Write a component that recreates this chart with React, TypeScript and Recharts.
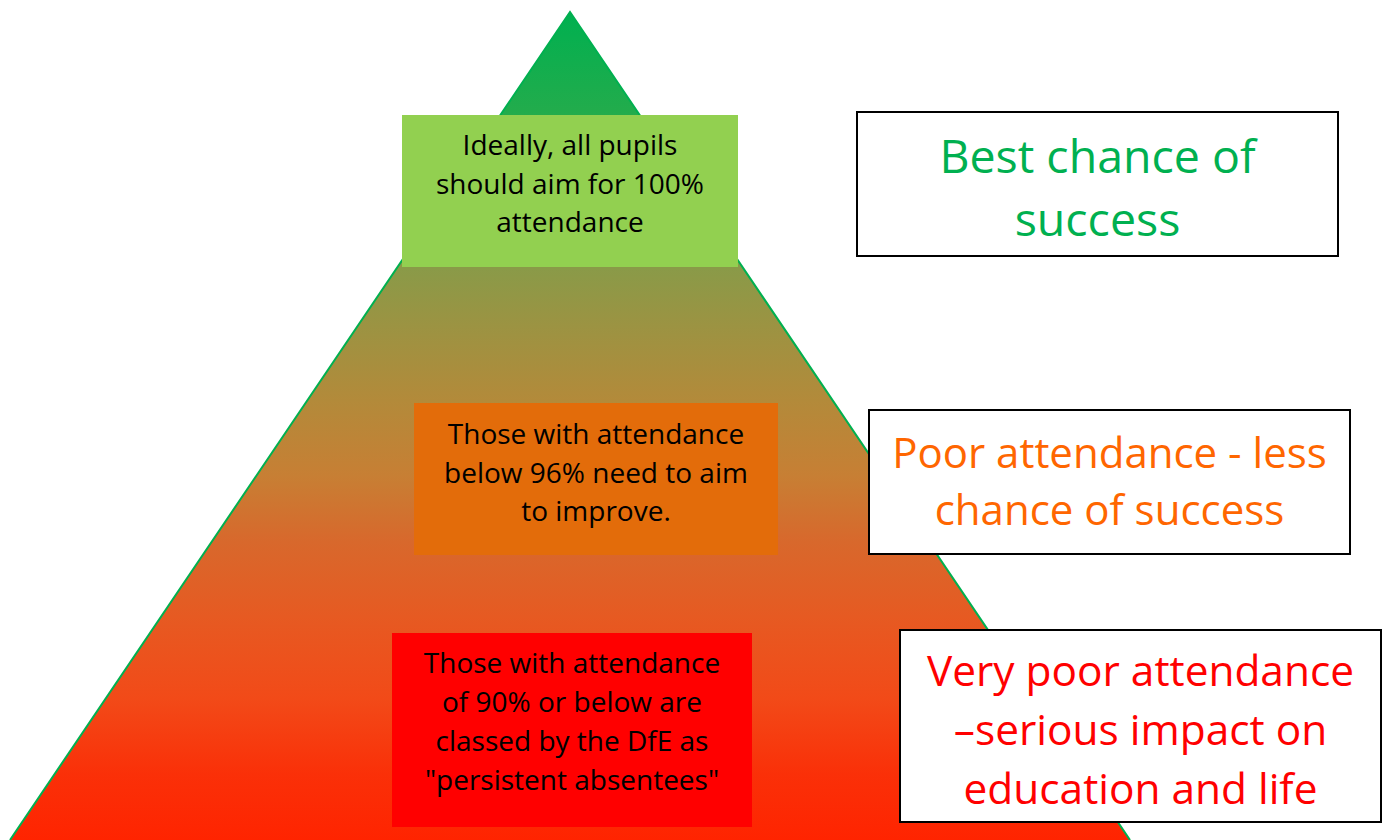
import React from 'react';
import { ComposedChart, Area, XAxis, YAxis, ReferenceArea } from 'recharts';

// pyramid outline (x across, y down the page)
const pyramidX = [10, 570, 1130];
const pyramidY = [840, 12, 840];

// text inside the pyramid, top to bottom
const tierNotes = [
  ['Ideally, all pupils', 'should aim for 100%', 'attendance'],
  ['Those with attendance', 'below 96% need to aim', 'to improve.'],
  ['Those with attendance', 'of 90% or below are', 'classed by the DfE as', '"persistent absentees"'],
];

// outcome boxes on the right
const outcomeLabels = [
  ['Best chance of', 'success'],
  ['Poor attendance - less', 'chance of success'],
  ['Very poor attendance', '\u2013serious impact on', 'education and life'],
];

const W = 1386;
const H = 840;
const FONT = '"Open Sans", Lato, sans-serif';

const tierBoxes = [
  { x1: 402, x2: 738, y1: 115, y2: 267, fill: '#92D050', first: 155, lh: 38.5 },
  { x1: 414, x2: 778, y1: 403, y2: 555, fill: '#E36C0A', first: 444, lh: 38.5 },
  { x1: 392, x2: 752, y1: 633, y2: 827, fill: '#FF0000', first: 673, lh: 39 },
];

const outcomeBoxes = [
  { x1: 857, x2: 1338, y1: 112, y2: 256, color: '#00B050', first: 173, lh: 63, size: 46.5 },
  { x1: 869, x2: 1350, y1: 410, y2: 554, color: '#FF6600', first: 468, lh: 57, size: 42 },
  { x1: 900, x2: 1381, y1: 630, y2: 822, color: '#FF0000', first: 686, lh: 59, size: 42.4 },
];

const GRADIENT = [
  [0, '#00B050'],
  [0.12, '#22AC4C'],
  [0.31, '#8A9A48'],
  [0.47, '#B38A3A'],
  [0.56, '#C77F34'],
  [0.64, '#D8682C'],
  [0.73, '#E65A22'],
  [0.83, '#F24A18'],
  [0.92, '#FA3008'],
  [1, '#FF2400'],
];

const pyramidData = pyramidX.map((x, i) => ({ x, y: pyramidY[i] }));

function BoxText({ viewBox, lines, first, lh, size, color }: any) {
  if (!viewBox) return null;
  const cx = viewBox.x + viewBox.width / 2;
  return (
    <text
      x={cx}
      textAnchor="middle"
      fontFamily={FONT}
      fontSize={size}
      fill={color}
      style={{ fontVariantLigatures: 'none' }}
    >
      {lines.map((line: string, i: number) => (
        <tspan key={i} x={cx} y={first + i * lh}>
          {line}
        </tspan>
      ))}
    </text>
  );
}

export default function App() {
  return (
    <div style={{ position: 'absolute', left: 0, top: 0, width: W, height: H, background: '#fff' }}>
      <ComposedChart width={W} height={H} data={pyramidData} margin={{ top: 0, right: 0, bottom: 0, left: 0 }}>
        <defs>
          <linearGradient id="pyramidFill" x1="0" y1="0" x2="0" y2="1">
            {GRADIENT.map(([o, c]) => (
              <stop key={o} offset={o as number} stopColor={c as string} />
            ))}
          </linearGradient>
        </defs>
        <XAxis type="number" dataKey="x" domain={[0, W]} hide allowDataOverflow />
        <YAxis type="number" domain={[0, H]} reversed hide allowDataOverflow />
        <Area
          type="linear"
          dataKey="y"
          baseValue={H}
          stroke="#00B050"
          strokeWidth={2}
          fill="url(#pyramidFill)"
          fillOpacity={1}
          dot={false}
          activeDot={false}
          isAnimationActive={false}
        />
        {tierBoxes.map((b, i) => (
          <ReferenceArea
            key={`tier-${i}`}
            x1={b.x1}
            x2={b.x2}
            y1={b.y1}
            y2={b.y2}
            fill={b.fill}
            fillOpacity={1}
            stroke="none"
            zIndex={600}
            label={(p: any) => (
              <BoxText viewBox={p.viewBox} lines={tierNotes[i]} first={b.first} lh={b.lh} size={28} color="#000" />
            )}
          />
        ))}
        {outcomeBoxes.map((b, i) => (
          <ReferenceArea
            key={`out-${i}`}
            x1={b.x1}
            x2={b.x2}
            y1={b.y1}
            y2={b.y2}
            fill="#fff"
            fillOpacity={1}
            stroke="#000"
            strokeWidth={2}
            zIndex={600}
            label={(p: any) => (
              <BoxText viewBox={p.viewBox} lines={outcomeLabels[i]} first={b.first} lh={b.lh} size={b.size} color={b.color} />
            )}
          />
        ))}
      </ComposedChart>
    </div>
  );
}
